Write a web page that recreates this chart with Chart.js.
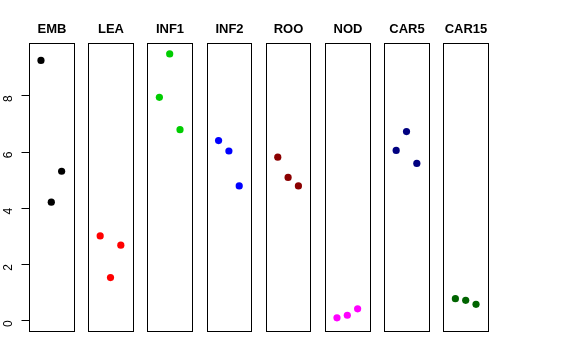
<!DOCTYPE html>
<html>
<head>
<meta charset="utf-8">
<script src="https://cdn.jsdelivr.net/npm/chart.js@4"></script>
<style>
  html, body { margin: 0; padding: 0; background: #fff; }
  #wrap { width: 576px; height: 360px; }
</style>
</head>
<body>
<div id="wrap"><canvas id="chart" width="576" height="360"></canvas></div>
<script>
// panel names, colours and the three values of each panel
const panels = ['EMB', 'LEA', 'INF1', 'INF2', 'ROO', 'NOD', 'CAR5', 'CAR15'];
const colors = ['#000000', '#FF0000', '#00CD00', '#0000FF', '#8B0000', '#FF00FF', '#000080', '#006400'];
const values = [
  [9.24, 4.20, 5.30],
  [3.00, 1.52, 2.67],
  [7.93, 9.47, 6.78],
  [6.39, 6.02, 4.78],
  [5.80, 5.08, 4.78],
  [0.09, 0.18, 0.41],
  [6.04, 6.71, 5.58],
  [0.77, 0.71, 0.57]
];
const positions = [1, 2, 3];
const yTicks = [0, 2, 4, 6, 8];

// each panel spans 0..4 (+4%), panels repeat every STEP units along x
const STEP = 5.736;
const PAD = 0.16;

const datasets = panels.map((name, i) => ({
  label: name,
  data: values[i].map((v, j) => ({ x: i * STEP + positions[j], y: v })),
  backgroundColor: colors[i],
  borderColor: colors[i],
  pointRadius: 3.6,
  pointHoverRadius: 3.6,
  borderWidth: 0,
  showLine: false
}));

// draw the panel boxes, titles and the short R-style y axis ticks
const panelPlugin = {
  id: 'panels',
  afterDraw(chart) {
    const c = chart.ctx;
    const xs = chart.scales.x, ys = chart.scales.y;
    const top = Math.round(chart.chartArea.top), bottom = Math.round(chart.chartArea.bottom);
    c.save();
    c.lineWidth = 1;
    c.strokeStyle = '#000';
    c.fillStyle = '#000';
    c.font = 'bold 13px "Liberation Sans", Arial, sans-serif';
    c.textAlign = 'center';
    c.textBaseline = 'middle';
    panels.forEach((name, i) => {
      const l = Math.round(xs.getPixelForValue(i * STEP - PAD)) + 0.5;
      const r = Math.round(xs.getPixelForValue(i * STEP + 4 + PAD)) + 0.5;
      c.strokeRect(l, top + 0.5, r - l, bottom - top);
      c.fillText(name, (l + r) / 2, 29);
    });
    const ax = Math.round(xs.getPixelForValue(-PAD)) + 0.5;
    c.beginPath();
    yTicks.forEach(t => {
      const py = Math.round(ys.getPixelForValue(t)) + 0.5;
      c.moveTo(ax - 8, py);
      c.lineTo(ax, py);
    });
    c.stroke();
    c.restore();
  }
};

new Chart(document.getElementById('chart'), {
  type: 'scatter',
  data: { datasets },
  options: {
    responsive: false,
    animation: false,
    layout: { padding: { top: 43, bottom: 29, left: 0, right: 88 } },
    plugins: { legend: { display: false }, tooltip: { enabled: false } },
    scales: {
      x: {
        type: 'linear',
        min: -PAD,
        max: (panels.length - 1) * STEP + 4 + PAD,
        display: false
      },
      y: {
        type: 'linear',
        min: -0.38,
        max: 9.86,
        afterBuildTicks: s => { s.ticks = yTicks.map(v => ({ value: v })); },
        afterFit: s => { s.width = 29; },
        grid: { display: false },
        border: { display: false },
        ticks: {
          color: '#000',
          font: { family: '"Liberation Sans", Arial, sans-serif', size: 12 },
          minRotation: 90,
          maxRotation: 90,
          padding: 12
        }
      }
    }
  },
  plugins: [panelPlugin]
});
</script>
</body>
</html>
